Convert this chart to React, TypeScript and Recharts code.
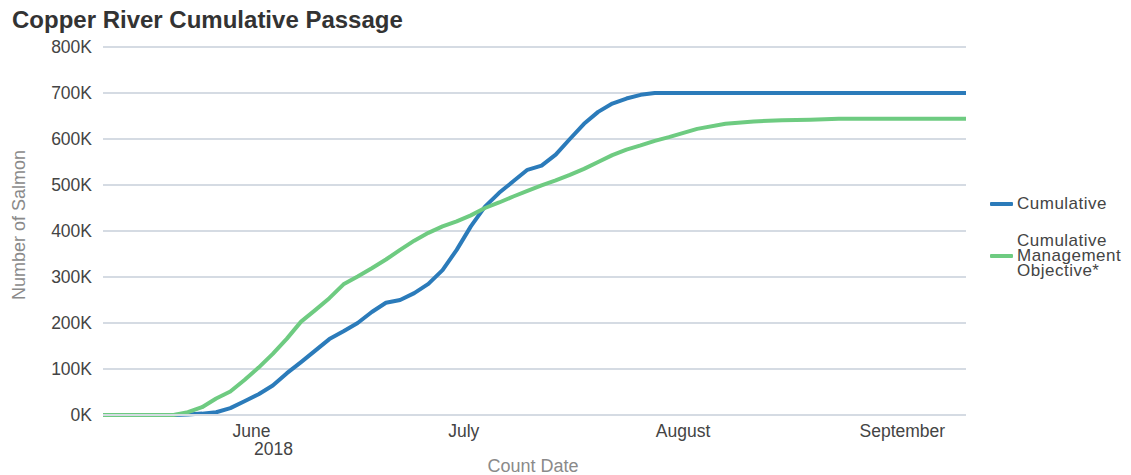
import React from 'react';
import { LineChart, Line, XAxis, YAxis, CartesianGrid, Legend } from 'recharts';

const countDates = [
  '2018-05-11', '2018-05-21', '2018-05-23', '2018-05-25', '2018-05-27', '2018-05-29', '2018-05-31',
  '2018-06-02', '2018-06-04', '2018-06-06', '2018-06-08', '2018-06-10', '2018-06-12', '2018-06-14',
  '2018-06-16', '2018-06-18', '2018-06-20', '2018-06-22', '2018-06-24', '2018-06-26', '2018-06-28',
  '2018-06-30', '2018-07-02', '2018-07-04', '2018-07-06', '2018-07-08', '2018-07-10', '2018-07-12',
  '2018-07-14', '2018-07-16', '2018-07-18', '2018-07-20', '2018-07-22', '2018-07-24', '2018-07-26',
  '2018-07-28', '2018-07-30', '2018-08-03', '2018-08-07', '2018-08-11', '2018-08-15', '2018-08-19',
  '2018-08-23', '2018-08-29', '2018-09-04', '2018-09-10',
];

const cumulative = [
  0, 0, 1000, 3000, 6000, 15000, 30000,
  45000, 64000, 91000, 115000, 140000, 165000, 182000,
  200000, 224000, 244000, 250000, 265000, 285000, 315000,
  359000, 410000, 453000, 483000, 508000, 533000, 542000,
  566000, 600000, 633000, 659000, 677000, 688000, 696000,
  700000, 700000, 700000, 700000, 700000, 700000, 700000,
  700000, 700000, 700000, 700000,
];

const objective = [
  0, 0, 6000, 17000, 36000, 51000, 76000,
  103000, 133000, 166000, 203000, 228000, 254000, 284000,
  301000, 319000, 338000, 359000, 379000, 396000, 410000,
  421000, 434000, 450000, 462000, 475000, 487000, 499000,
  510000, 522000, 535000, 550000, 565000, 577000, 586000,
  596000, 604000, 622000, 633000, 638000, 641000, 642000,
  644000, 644000, 644000, 644000,
];

const monthTicks = ['2018-06-01', '2018-07-01', '2018-08-01', '2018-09-01'];
const monthLabels = ['June', 'July', 'August', 'September'];
const yTicks = [0, 100000, 200000, 300000, 400000, 500000, 600000, 700000, 800000];
const startDate = '2018-05-11';
const endDate = '2018-09-10';

const toDay = (s: string) => {
  const [y, m, d] = s.split('-').map(Number);
  const [y0, m0, d0] = startDate.split('-').map(Number);
  return Math.round((Date.UTC(y, m - 1, d) - Date.UTC(y0, m0 - 1, d0)) / 86400000);
};

const data = countDates.map((d, i) => ({
  day: toDay(d),
  cumulative: cumulative[i],
  objective: objective[i],
}));

const tickDays = monthTicks.map(toDay);
const FONT = '"Liberation Sans", Arial, Helvetica, sans-serif';
const GRID = '#d5dbe3';
const BLUE = '#2b7bba';
const GREEN = '#6ecb81';

const XTick = (props: any) => {
  const { x, y, payload } = props;
  const idx = tickDays.indexOf(payload.value);
  const label = idx >= 0 ? monthLabels[idx] : '';
  return (
    <g>
      <text x={x} y={y + 14} textAnchor="middle" fontSize={17.5} fill="#444" fontFamily={FONT}>
        {label}
      </text>
      {idx === 0 && (
        <text x={x + 22} y={y + 32} textAnchor="middle" fontSize={17.5} fill="#444" fontFamily={FONT}>
          2018
        </text>
      )}
    </g>
  );
};

const renderLegend = (props: any) => {
  const { payload } = props;
  return (
    <div style={{ fontFamily: FONT, fontSize: 17, color: '#444' }}>
      {(payload || []).map((p: any, i: number) => (
        <div
          key={i}
          style={{ display: 'flex', alignItems: 'center', marginBottom: i === 0 ? 22 : 0 }}
        >
          <span
            style={{ display: 'inline-block', width: 23, height: 4, background: p.color, marginRight: 4, borderRadius: 1 }}
          />
          <span style={{ width: 114, lineHeight: '15px', letterSpacing: '0.5px' }}>{p.value}</span>
        </div>
      ))}
    </div>
  );
};

export default function App() {
  return (
    <div style={{ position: 'absolute', left: 0, top: 0, width: 1131, height: 475, background: '#fff' }}>
      <div
        style={{
          position: 'absolute', left: 12, top: 8, fontFamily: FONT, fontWeight: 'bold',
          fontSize: 24, lineHeight: '24px', color: '#333', whiteSpace: 'nowrap',
        }}
      >
        Copper River Cumulative Passage
      </div>
      <LineChart
        width={1131}
        height={475}
        data={data}
        margin={{ top: 47, right: 24, bottom: 0, left: 0 }}
      >
        <CartesianGrid horizontal vertical={false} stroke={GRID} strokeWidth={2} />
        <XAxis
          dataKey="day"
          type="number"
          domain={[0, toDay(endDate)]}
          ticks={tickDays}
          tick={<XTick />}
          tickLine={false}
          axisLine={{ stroke: GRID, strokeWidth: 2 }}
          height={60}
          interval={0}
          label={(p: any) => (
            <text x={533} y={472} textAnchor="middle" fontSize={18} fill="#8a8a8a" fontFamily={FONT}>
              Count Date
            </text>
          )}
        />
        <YAxis
          type="number"
          domain={[0, 800000]}
          ticks={yTicks}
          width={103}
          tickLine={false}
          axisLine={false}
          tickMargin={5}
          tickFormatter={(v: number) => `${v / 1000}K`}
          tick={{ fontSize: 17.5, fill: '#444', fontFamily: FONT }}
          label={(p: any) => (
            <text
              x={25}
              y={225}
              transform="rotate(-90 25 225)"
              textAnchor="middle"
              fontSize={18}
              fill="#8a8a8a"
              fontFamily={FONT}
            >
              Number of Salmon
            </text>
          )}
        />
        <Legend
          layout="vertical"
          align="right"
          verticalAlign="top"
          content={renderLegend}
          wrapperStyle={{ left: 990, top: 196, width: 141, right: 'auto' }}
        />
        <Line
          type="linear"
          dataKey="cumulative"
          name="Cumulative"
          stroke={BLUE}
          strokeWidth={4}
          dot={false}
          strokeLinejoin="round"
          isAnimationActive={false}
        />
        <Line
          type="linear"
          dataKey="objective"
          name="Cumulative Management Objective*"
          stroke={GREEN}
          strokeWidth={4}
          dot={false}
          strokeLinejoin="round"
          isAnimationActive={false}
        />
      </LineChart>
    </div>
  );
}
